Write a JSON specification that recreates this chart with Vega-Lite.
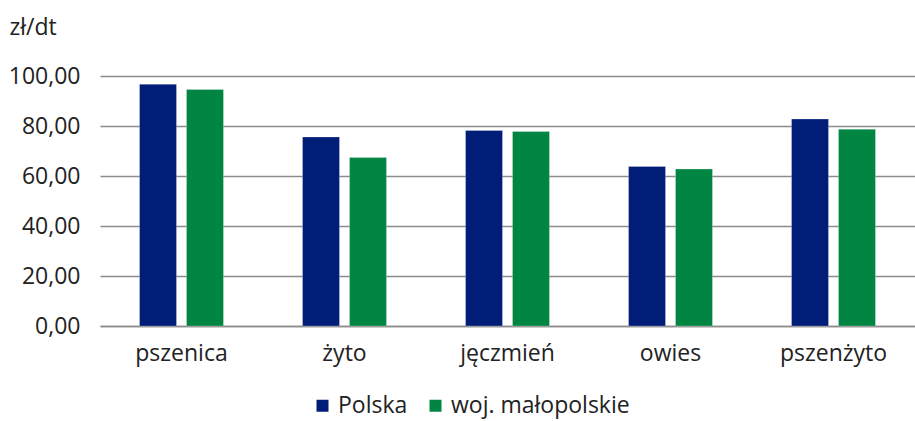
{
  "$schema": "https://vega.github.io/schema/vega-lite/v6.json",
  "autosize": {"type": "none"},
  "width": 815,
  "height": 250,
  "padding": {"left": 100, "top": 76, "right": 0, "bottom": 95},
  "background": "white",
  "data": {"values": [
    {"zboze": "pszenica", "seria": "Polska", "cena": 96.7},
    {"zboze": "pszenica", "seria": "woj. małopolskie", "cena": 94.6},
    {"zboze": "żyto", "seria": "Polska", "cena": 75.6},
    {"zboze": "żyto", "seria": "woj. małopolskie", "cena": 67.4},
    {"zboze": "jęczmień", "seria": "Polska", "cena": 78.2},
    {"zboze": "jęczmień", "seria": "woj. małopolskie", "cena": 77.8},
    {"zboze": "owies", "seria": "Polska", "cena": 63.8},
    {"zboze": "owies", "seria": "woj. małopolskie", "cena": 62.8},
    {"zboze": "pszenżyto", "seria": "Polska", "cena": 82.8},
    {"zboze": "pszenżyto", "seria": "woj. małopolskie", "cena": 78.7}
  ]},
  "config": {
    "font": "Open Sans",
    "view": {"stroke": null}
  },
  "mark": {"type": "bar", "stroke": "#ffffff", "strokeOpacity": 0.5, "strokeWidth": 0.5},
  "encoding": {
    "x": {
      "field": "zboze", "type": "nominal",
      "sort": ["pszenica", "żyto", "jęczmień", "owies", "pszenżyto"],
      "scale": {"paddingInner": 0.485, "paddingOuter": 0.2425},
      "axis": {
        "title": null, "labelAngle": 0, "labelFontSize": 23, "labelColor": "#222222",
        "labelPadding": 16, "ticks": false, "domainColor": "#8c8c8c", "domainWidth": 1.5
      }
    },
    "xOffset": {
      "field": "seria", "type": "nominal",
      "sort": ["Polska", "woj. małopolskie"],
      "scale": {"paddingInner": 0.213}
    },
    "y": {
      "field": "cena", "type": "quantitative",
      "scale": {"domain": [0, 100]},
      "axis": {
        "values": [0, 20, 40, 60, 80, 100],
        "labelExpr": "replace(format(datum.value, '.2f'), '.', ',')",
        "labelFontSize": 23, "labelColor": "#222222", "labelPadding": 20,
        "ticks": false, "domain": false,
        "gridColor": "#8c8c8c", "gridWidth": 1.5,
        "title": "zł/dt", "titleAngle": 0, "titleAlign": "left", "titleBaseline": "middle",
        "titleX": -91, "titleY": -49, "titleFontSize": 23, "titleFontWeight": "normal", "titleColor": "#222222"
      }
    },
    "color": {
      "field": "seria", "type": "nominal",
      "sort": ["Polska", "woj. małopolskie"],
      "scale": {"domain": ["Polska", "woj. małopolskie"], "range": ["#001E78", "#008542"]},
      "legend": {
        "title": null, "orient": "none", "direction": "horizontal",
        "legendX": 211, "legendY": 318, "labelLimit": 400,
        "symbolType": "square", "symbolSize": 144, "symbolStrokeWidth": 0,
        "labelFontSize": 23, "labelColor": "#222222", "labelOffset": 4, "columnPadding": 16
      }
    }
  }
}
